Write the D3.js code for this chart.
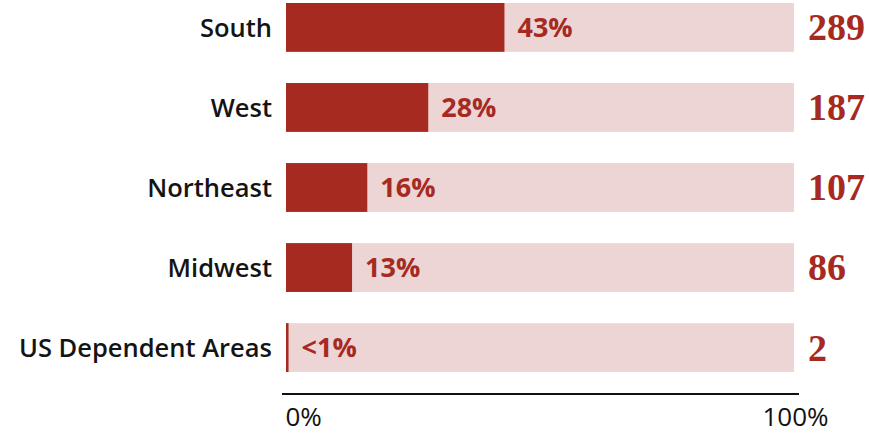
<!DOCTYPE html>
<html>
<head>
<meta charset="utf-8">
<script src="https://cdn.jsdelivr.net/npm/d3@7"></script>
<style>
  html, body { margin: 0; padding: 0; background: #ffffff; }
  svg { display: block; }
</style>
</head>
<body>
<svg id="chart" width="869" height="434"></svg>
<script>
// Regions, share of the total, and raw counts
const regions = ["South", "West", "Northeast", "Midwest", "US Dependent Areas"];
const shares = [43, 28, 16, 13, 0.5];
const shareLabels = ["43%", "28%", "16%", "13%", "<1%"];
const counts = [289, 187, 107, 86, 2];
const axisTicks = [0, 100];
const axisTickLabels = ["0%", "100%"];

const DARK = "#a62a1f";
const LIGHT = "#ecd5d4";
const SANS = "'Open Sans', 'Noto Sans', sans-serif";

const svg = d3.select("#chart");

const x = d3.scaleLinear().domain([0, 100]).range([286, 794]);
const y = d3.scaleBand().domain(regions).range([3, 372]).paddingInner(0.39).paddingOuter(0);

const rows = svg.selectAll("g.row")
  .data(regions.map((r, i) => ({ region: r, share: shares[i], label: shareLabels[i], count: counts[i] })))
  .join("g")
  .attr("class", "row");

// full-width track
rows.append("rect")
  .attr("x", x(0))
  .attr("y", d => y(d.region))
  .attr("width", x(100) - x(0))
  .attr("height", y.bandwidth())
  .attr("fill", LIGHT);

// share bar
rows.append("rect")
  .attr("x", x(0))
  .attr("y", d => y(d.region))
  .attr("width", d => x(d.share) - x(0))
  .attr("height", y.bandwidth())
  .attr("fill", DARK);

// region names
rows.append("text")
  .attr("x", 272)
  .attr("y", d => y(d.region) + y.bandwidth() / 2)
  .attr("dy", "0.36em")
  .attr("text-anchor", "end")
  .attr("font-family", SANS)
  .attr("font-weight", 600)
  .attr("font-size", 25.5)
  .attr("fill", "#141414")
  .text(d => d.region);

// share labels next to bar end
rows.append("text")
  .attr("x", d => x(d.share) + 13)
  .attr("y", d => y(d.region) + y.bandwidth() / 2)
  .attr("dy", "0.36em")
  .attr("font-family", SANS)
  .attr("font-weight", 700)
  .attr("font-size", 27)
  .attr("fill", DARK)
  .text(d => d.label);

// counts on the right
rows.append("text")
  .attr("x", 808)
  .attr("y", d => y(d.region) + y.bandwidth() / 2)
  .attr("dy", "0.34em")
  .attr("font-family", "'Liberation Serif', 'DejaVu Serif', serif")
  .attr("font-weight", 700)
  .attr("font-size", 38)
  .attr("fill", DARK)
  .text(d => d.count);

// bottom axis
const axis = d3.axisBottom(x)
  .tickValues(axisTicks)
  .tickSize(0)
  .tickPadding(14)
  .tickFormat((d, i) => axisTickLabels[i]);

const gAxis = svg.append("g")
  .attr("transform", "translate(0,394)")
  .call(axis);

gAxis.select(".domain")
  .attr("d", `M282,0H799`)
  .attr("stroke", "#111")
  .attr("stroke-width", 2);

gAxis.selectAll(".tick text")
  .attr("font-family", SANS)
  .attr("font-size", 26)
  .attr("fill", "#111")
  .attr("text-anchor", (d, i) => i === 0 ? "start" : "middle")
  .attr("dx", (d, i) => i === 0 ? -1 : 1);
</script>
</body>
</html>
